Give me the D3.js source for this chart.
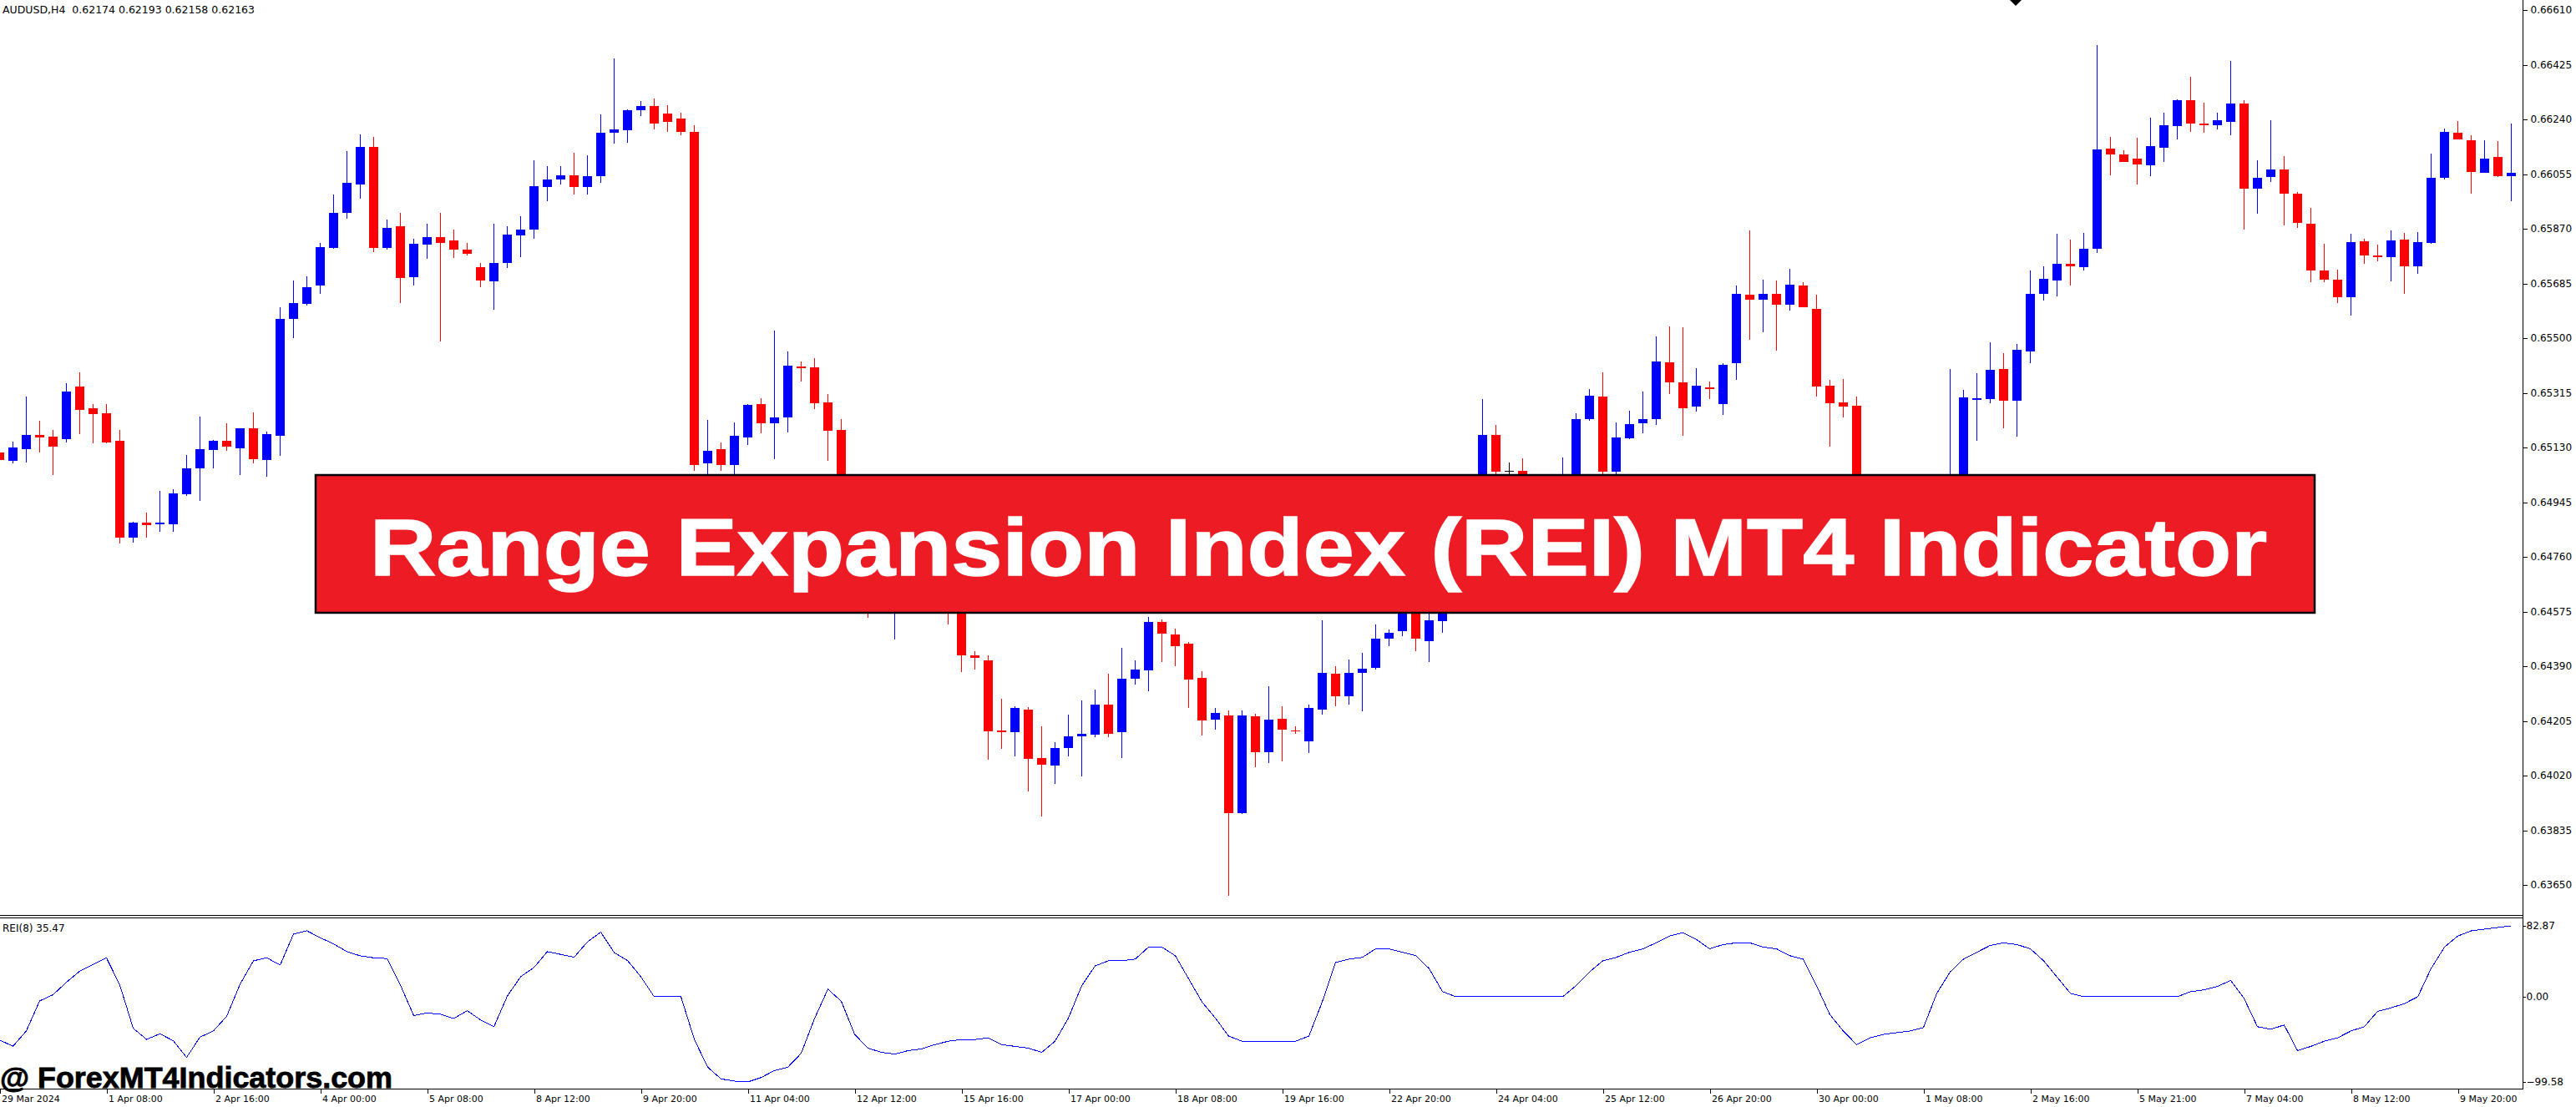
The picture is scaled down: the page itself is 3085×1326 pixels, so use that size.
<!DOCTYPE html>
<html><head><meta charset="utf-8">
<script src="https://cdn.jsdelivr.net/npm/d3@7"></script>
<style>html,body{margin:0;padding:0;background:#fff;overflow:hidden}</style>
</head><body><svg id="c" width="3085" height="1326" xmlns="http://www.w3.org/2000/svg"></svg>
<script>
// ---------- DATA ----------
const symbolTitle = "AUDUSD,H4  0.62174 0.62193 0.62158 0.62163";
const indicatorTitle = "REI(8) 35.47";
const bannerText = "Range Expansion Index (REI) MT4 Indicator";
const watermark = "@ ForexMT4Indicators.com";

const opens = [.65113,.65086,.65125,.65173,.65167,.65158,.65337,.65263,.65246,.65152,
.64824,.64875,.64869,.64869,.64971,.65060,.65121,.65152,.65127,.65195,
.65088,.65170,.65566,.65617,.65677,.65806,.65923,.66019,.66146,.65806,
.65878,.65706,.65815,.65841,.65831,.65800,.65741,.65693,.65753,.65846,
.65866,.66010,.66036,.66052,.66010,.66047,.66195,.66202,.66270,.66284,
.66259,.66242,.66197,.65075,.65123,.65071,.65164,.65277,.65213,.65231,
.65404,.65402,.65282,.65189,.64940,.64820,.64640,.64690,.64760,.64700,
.64680,.64740,.64620,.64427,.64411,.64173,.64168,.64244,.64079,.64053,
.64113,.64152,.64158,.64261,.64166,.64349,.64376,.64539,.64498,.64466,
.64350,.64209,.64223,.63894,.64220,.64099,.64212,.64173,.64136,.64242,
.64365,.64287,.64366,.64384,.64483,.64510,.64600,.64475,.64542,.64600,
.64700,.64800,.65172,.65052,.65050,.64920,.64850,.64900,.64980,.65225,
.65302,.65049,.65161,.65213,.65225,.65417,.65351,.65267,.65334,.65278,
.65414,.65647,.65631,.65650,.65612,.65678,.65599,.65339,.65282,.65270,
.64980,.64880,.64920,.64860,.64910,.64980,.64930,.65010,.65292,.65294,
.65395,.65288,.65456,.65649,.65696,.65752,.65741,.65803,.66140,.66121,
.66108,.66084,.66143,.66216,.66305,.66225,.66220,.66232,.66293,.66005,
.66044,.66071,.65988,.65886,.65729,.65698,.65639,.65828,.65780,.65773,
.65833,.65742,.65823,.66041,.66194,.66168,.66060,.66112,.66049];

const highs = [.65119,.65149,.65302,.65220,.65189,.65347,.65384,.65277,.65277,.65189,
.64879,.64910,.64982,.64988,.65105,.65234,.65156,.65212,.65195,.65249,
.65183,.65605,.65696,.65708,.65823,.65987,.66132,.66188,.66180,.65900,
.65925,.65835,.65886,.65925,.65866,.65823,.65755,.65888,.65878,.65911,
.66101,.66081,.66081,.66126,.66118,.66256,.66446,.66273,.66301,.66310,
.66287,.66262,.66219,.65223,.65146,.65214,.65276,.65296,.65526,.65455,
.65421,.65432,.65311,.65226,.64990,.64860,.64720,.64800,.64820,.64760,
.64790,.64770,.64680,.64440,.64427,.64280,.64254,.64252,.64186,.64132,
.64226,.64275,.64311,.64364,.64453,.64411,.64558,.64549,.64517,.64472,
.64373,.64248,.64240,.64240,.64229,.64323,.64254,.64187,.64260,.64545,
.64389,.64413,.64436,.64530,.64513,.64630,.64640,.64580,.64650,.64760,
.64850,.65293,.65205,.65079,.65093,.64980,.64950,.65097,.65246,.65328,
.65384,.65214,.65254,.65319,.65505,.65540,.65537,.65398,.65352,.65414,
.65678,.65865,.65698,.65694,.65734,.65690,.65648,.65358,.65361,.65302,
.65020,.64960,.64990,.64950,.65010,.65020,.65395,.65325,.65381,.65486,
.65449,.65481,.65729,.65744,.65852,.65834,.65857,.66491,.66180,.66135,
.66177,.66245,.66262,.66307,.66383,.66296,.66264,.66437,.66305,.66101,
.66238,.66117,.65995,.65941,.65819,.65733,.65852,.65837,.65815,.65863,
.65857,.65860,.66124,.66208,.66235,.66186,.66168,.66166,.66225];

const lows = [.65084,.65076,.65080,.65113,.65037,.65148,.65175,.65145,.65144,.64805,
.64808,.64824,.64844,.64844,.64966,.64949,.65060,.65119,.65037,.65076,
.65031,.65101,.65501,.65609,.65651,.65803,.65905,.65973,.65792,.65800,
.65620,.65677,.65767,.65490,.65772,.65781,.65671,.65595,.65736,.65775,
.65837,.65962,.66019,.65987,.65985,.66024,.66157,.66161,.66251,.66205,
.66197,.66185,.65052,.65030,.65052,.65032,.65139,.65179,.65091,.65181,
.65352,.65261,.65084,.64900,.64780,.64555,.64600,.64479,.64660,.64620,
.64640,.64530,.64370,.64379,.64075,.64111,.64085,.63966,.63882,.63991,
.64084,.64017,.64150,.64150,.64079,.64329,.64305,.64404,.64391,.64248,
.64155,.64176,.63613,.63891,.64048,.64061,.64068,.64161,.64096,.64225,
.64255,.64260,.64237,.64378,.64457,.64491,.64442,.64403,.64503,.64580,
.64680,.64780,.65000,.65020,.64880,.64800,.64820,.64870,.64950,.65219,
.65034,.65030,.65158,.65178,.65207,.65310,.65169,.65252,.65295,.65240,
.65360,.65495,.65519,.65458,.65592,.65604,.65301,.65132,.65231,.64940,
.64820,.64840,.64800,.64830,.64890,.64880,.64900,.64990,.65153,.65281,
.65195,.65168,.65415,.65627,.65642,.65679,.65728,.65787,.66052,.66095,
.66019,.66049,.66097,.66171,.66197,.66196,.66207,.66186,.65868,.65922,
.66027,.65880,.65874,.65690,.65690,.65620,.65577,.65750,.65761,.65693,
.65650,.65717,.65820,.66038,.66171,.65990,.66058,.66046,.65962];

const closes = [.65088,.65130,.65173,.65165,.65133,.65320,.65257,.65244,.65147,.64824,
.64875,.64867,.64875,.64974,.65060,.65125,.65152,.65133,.65195,.65090,
.65175,.65566,.65620,.65673,.65809,.65925,.66024,.66146,.65804,.65872,
.65703,.65818,.65841,.65823,.65800,.65786,.65696,.65755,.65849,.65868,
.66013,.66038,.66050,.66010,.66047,.66196,.66206,.66270,.66284,.66225,
.66231,.66197,.65071,.65120,.65071,.65170,.65273,.65211,.65231,.65407,
.65398,.65281,.65187,.64940,.64820,.64640,.64690,.64760,.64700,.64680,
.64740,.64620,.64427,.64417,.64171,.64168,.64250,.64077,.64058,.64113,
.64152,.64161,.64261,.64162,.64348,.64379,.64539,.64499,.64458,.64345,
.64207,.64232,.63894,.64222,.64099,.64209,.64176,.64169,.64248,.64368,
.64287,.64368,.64381,.64483,.64503,.64600,.64483,.64544,.64600,.64700,
.64800,.65172,.65049,.65052,.64920,.64850,.64900,.65000,.65225,.65305,
.65049,.65163,.65210,.65225,.65420,.65349,.65264,.65339,.65329,.65410,
.65650,.65631,.65650,.65612,.65681,.65604,.65337,.65281,.65269,.64980,
.64880,.64920,.64860,.64910,.64980,.64930,.65010,.65299,.65297,.65392,
.65288,.65460,.65650,.65701,.65752,.65742,.65803,.66137,.66122,.66097,
.66087,.66149,.66219,.66305,.66226,.66220,.66236,.66293,.66005,.66043,
.66071,.65988,.65891,.65729,.65699,.65639,.65826,.65779,.65773,.65831,
.65742,.65826,.66041,.66198,.66173,.66062,.66108,.66048,.66058];

const rei = [-50.5,-57.9,-40.0,-4.9,2.3,16.9,29.9,37.7,45.5,13.7,
-36.8,-49.8,-43.3,-51.4,-70.9,-47.2,-40.0,-22.8,14.6,42.0,
45.5,37.1,73.2,77.1,69.0,61.8,52.7,47.8,45.5,44.6,
13.7,-22.1,-18.9,-20.5,-25.4,-16.3,-27.0,-35.1,0.7,23.4,
34.2,52.7,49.5,46.2,64.1,75.5,51.7,42.3,23.4,0,
0,0,-49.8,-82.3,-96.0,-98.6,-99.58,-94.4,-86.2,-82.3,
-66.1,-25.4,8.8,-5.2,-44,-60,-65,-67,-63,-61,
-56,-52,-50,-50,-48,-56,-58,-60,-65,-52,
-25,13,36,42,42,44,58,58,48,21,
-6,-25,-46,-52,-52,-52,-52,-52,-46,-6,
40,44,46,56,56,52,48,33,6,0,
0,0,0,0,0,0,0,0,13,29,
42,46,52,56,63,71,75,67,56,61,
63,63,58,56,48,44,13,-21,-40,-56,
-48,-44,-42,-40,-36,4,29,44,52,60,
63,61,56,42,23,4,0,0,0,0,
0,0,0,0,6,8,12,19,-2,-35,
-38,-33,-63,-58,-52,-48,-40,-35,-17,-13,
-8,0,33,58,71,77,79,81,82.87];

const priceTicks = [0.66610,0.66425,0.66240,0.66055,0.65870,0.65685,0.65500,0.65315,0.65130,
0.64945,0.64760,0.64575,0.64390,0.64205,0.64020,0.63835,0.63650];
const reiTicks = [82.87, 0.00, -99.58];
const timeLabels = ["29 Mar 2024","1 Apr 08:00","2 Apr 16:00","4 Apr 00:00","5 Apr 08:00","8 Apr 12:00",
"9 Apr 20:00","11 Apr 04:00","12 Apr 12:00","15 Apr 16:00","17 Apr 00:00","18 Apr 08:00",
"19 Apr 16:00","22 Apr 20:00","24 Apr 04:00","25 Apr 12:00","26 Apr 20:00","30 Apr 00:00",
"1 May 08:00","2 May 16:00","5 May 21:00","7 May 04:00","8 May 12:00","9 May 20:00"];
const barsPerLabel = 8;

// ---------- LAYOUT ----------
const W = 3085, H = 1326;
const plotRight = 3021, mainBottom = 1096, subTop = 1099, subBottom = 1304;
const BLUE = "#0000FF", RED = "#FF0000";
const FONT = "'DejaVu Sans', Tahoma, sans-serif";

const svg = d3.select("#c");
svg.append("rect").attr("width", W).attr("height", H).attr("fill", "#fff");

const N = opens.length;
const x = d3.scaleLinear().domain([0, 188]).range([-0.5, 3007.5]);
const y = d3.scaleLinear().domain([0.63650, 0.66610]).range([1060, 12]);
const yR = d3.scaleLinear().domain([-99.58, 82.87]).range([1296, 1109]);

const defs = svg.append("defs");
defs.append("clipPath").attr("id", "mainClip").append("rect")
  .attr("x", 0).attr("y", 0).attr("width", plotRight).attr("height", mainBottom);
defs.append("clipPath").attr("id", "subClip").append("rect")
  .attr("x", 0).attr("y", subTop + 1).attr("width", plotRight).attr("height", subBottom - subTop - 1);

// ---------- CANDLES ----------
const candles = d3.range(N).map(i => ({i, o: opens[i], h: highs[i], l: lows[i], c: closes[i]}));
const colorOf = d => d.c > d.o ? BLUE : (d.c < d.o ? RED : "#000");
const gC = svg.append("g").attr("clip-path", "url(#mainClip)").attr("shape-rendering", "crispEdges");
const cg = gC.selectAll("g.c").data(candles).join("g").attr("class", "c");
cg.append("line")
  .attr("x1", d => x(d.i)).attr("x2", d => x(d.i))
  .attr("y1", d => y(d.h)).attr("y2", d => y(d.l))
  .attr("stroke", colorOf).attr("stroke-width", 1);
cg.append("rect")
  .attr("x", d => x(d.i) - 5.5).attr("width", 11)
  .attr("y", d => Math.min(y(d.o), y(d.c)))
  .attr("height", d => Math.max(1, Math.abs(y(d.o) - y(d.c))))
  .attr("fill", colorOf);

// chart shift marker
svg.append("path").attr("d", "M2407,0 L2421,0 L2414,7 Z").attr("fill", "#000");

// ---------- FRAME LINES ----------
const frame = svg.append("g").attr("stroke", "#000").attr("stroke-width", 1).attr("shape-rendering", "crispEdges");
frame.append("line").attr("x1", 0).attr("x2", plotRight).attr("y1", mainBottom + 0.5).attr("y2", mainBottom + 0.5);
frame.append("line").attr("x1", 0).attr("x2", plotRight).attr("y1", subTop + 0.5).attr("y2", subTop + 0.5);
frame.append("line").attr("x1", 0).attr("x2", plotRight).attr("y1", subBottom + 0.5).attr("y2", subBottom + 0.5);
frame.append("line").attr("x1", plotRight + 0.5).attr("x2", plotRight + 0.5).attr("y1", 0).attr("y2", subBottom + 1);

// ---------- PRICE AXIS ----------
const pAxis = d3.axisRight(y).tickValues(priceTicks).tickFormat(d => d.toFixed(5)).tickSize(5).tickPadding(4);
const gP = svg.append("g").attr("transform", `translate(${plotRight + 0.5},0)`).call(pAxis);
gP.select(".domain").remove();
gP.selectAll(".tick line").attr("stroke", "#000").attr("shape-rendering", "crispEdges");
gP.selectAll(".tick text").attr("font-family", FONT).attr("font-size", 12).attr("fill", "#000");

// ---------- REI AXIS ----------
const rAxis = d3.axisRight(yR).tickValues(reiTicks).tickFormat(d3.format(".2f")).tickSize(3).tickPadding(1);
const gR = svg.append("g").attr("transform", `translate(${plotRight + 0.5},0)`).call(rAxis);
gR.select(".domain").remove();
gR.selectAll(".tick line").attr("stroke", "#000").attr("shape-rendering", "crispEdges");
gR.selectAll(".tick text").attr("font-family", FONT).attr("font-size", 12).attr("fill", "#000");

// ---------- TIME AXIS ----------
const timeIdx = timeLabels.map((_, k) => k * barsPerLabel);
const tAxis = d3.axisBottom(x).tickValues(timeIdx).tickFormat((d, k) => timeLabels[k]).tickSize(5).tickPadding(3);
const gT = svg.append("g").attr("transform", `translate(0,${subBottom + 0.5})`).call(tAxis);
gT.select(".domain").remove();
gT.selectAll(".tick line").attr("stroke", "#000").attr("shape-rendering", "crispEdges");
gT.selectAll(".tick text").attr("font-family", FONT).attr("font-size", 11).attr("fill", "#000")
  .attr("text-anchor", "start").attr("dx", 2);

// ---------- REI LINE ----------
const line = d3.line().x((d, i) => x(i)).y(d => yR(d));
svg.append("g").attr("clip-path", "url(#subClip)")
  .append("path").datum(rei).attr("d", line)
  .attr("fill", "none").attr("stroke", BLUE).attr("stroke-width", 1)
  .attr("shape-rendering", "crispEdges");

// ---------- TEXTS ----------
svg.append("text").attr("x", 3).attr("y", 12).attr("dominant-baseline", "central")
  .attr("font-family", FONT).attr("font-size", 12).attr("fill", "#000")
  .attr("xml:space", "preserve").attr("textLength", 302).attr("lengthAdjust", "spacingAndGlyphs")
  .text(symbolTitle);
svg.append("text").attr("x", 3).attr("y", 1112).attr("dominant-baseline", "central")
  .attr("font-family", FONT).attr("font-size", 12).attr("fill", "#000")
  .text(indicatorTitle);

// watermark
svg.append("text").attr("x", 0).attr("y", 1303)
  .attr("font-family", "'Liberation Sans Narrow', 'Arial Narrow', 'Liberation Sans', sans-serif")
  .attr("font-weight", "bold").attr("font-size", 35).attr("fill", "#000")
  .attr("stroke", "#000").attr("stroke-width", 0.8)
  .attr("textLength", 470).attr("lengthAdjust", "spacingAndGlyphs")
  .text(watermark);

// banner
svg.append("rect").attr("x", 378).attr("y", 569).attr("width", 2772 - 378).attr("height", 734 - 569)
  .attr("fill", "#ED1C24").attr("stroke", "#000").attr("stroke-width", 2.5);
svg.append("text").attr("x", 443).attr("y", 689)
  .attr("font-family", "'Liberation Sans', Arial, sans-serif").attr("font-weight", "bold")
  .attr("font-size", 97).attr("fill", "#fff")
  .attr("stroke", "#fff").attr("stroke-width", 1.5)
  .attr("textLength", 2272).attr("lengthAdjust", "spacingAndGlyphs")
  .text(bannerText);
</script></body></html>
